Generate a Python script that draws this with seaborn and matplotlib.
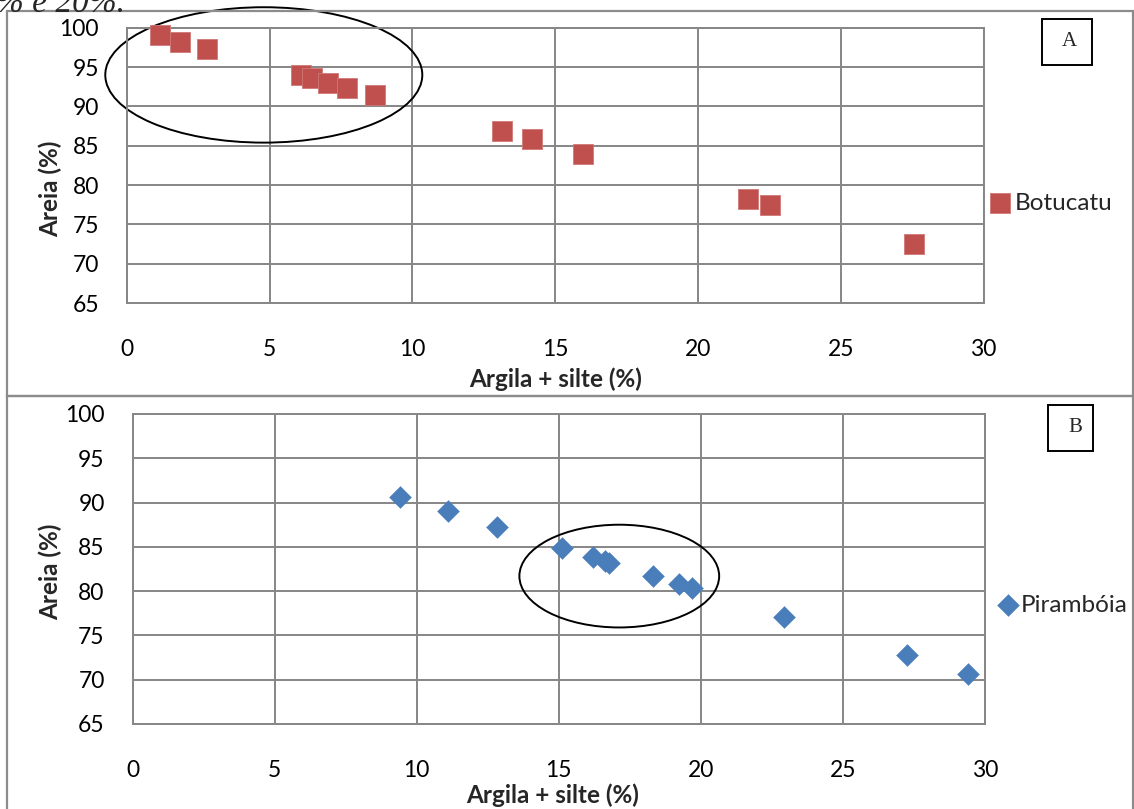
import seaborn as sns
import matplotlib.pyplot as plt
from matplotlib.patches import Ellipse, Rectangle

# Panel A - Botucatu
bot_x = [1.17, 1.87, 2.80, 6.10, 6.50, 7.06, 7.70, 8.69, 13.13, 14.18, 15.98, 21.75, 22.54, 27.55]
bot_y = [99.1, 98.2, 97.3, 94.0, 93.6, 93.0, 92.4, 91.4, 86.9, 85.8, 84.0, 78.3, 77.5, 72.5]

# Panel B - Pirambóia
pir_x = [9.43, 11.10, 12.83, 15.11, 16.19, 16.61, 16.78, 18.32, 19.24, 19.70, 22.92, 27.24, 29.41]
pir_y = [90.6, 89.0, 87.2, 84.9, 83.8, 83.4, 83.2, 81.7, 80.8, 80.4, 77.1, 72.8, 70.6]

x_ticks = [0, 5, 10, 15, 20, 25, 30]
y_ticks = [65, 70, 75, 80, 85, 90, 95, 100]
x_label = "Argila + silte (%)"
y_label = "Areia (%)"

RED = "#C0504D"
BLUE = "#4A7EBB"
GRID = "#868686"

sns.set_style("white")
plt.rcParams["font.family"] = ["Lato", "DejaVu Sans"]

W, H = 1134, 809
fig = plt.figure(figsize=(W / 100, H / 100), dpi=100)


def px_axes(l, t, r, b):
    return fig.add_axes([l / W, 1 - b / H, (r - l) / W, (b - t) / H])


def style(ax):
    ax.set_xlim(0, 30)
    ax.set_ylim(65, 100)
    ax.set_xticks(x_ticks)
    ax.set_yticks(y_ticks)
    ax.grid(True, color=GRID, lw=1.4)
    ax.set_axisbelow(True)
    for s in ax.spines.values():
        s.set_color(GRID)
        s.set_linewidth(1.4)
    ax.tick_params(axis="x", direction="out", length=7, width=1.4, color=GRID,
                   pad=19, labelsize=16.5, labelcolor="black")
    ax.tick_params(axis="y", direction="out", length=7, width=1.4, color=GRID,
                   pad=13, labelsize=16.5, labelcolor="black")
    ax.set_xlabel(x_label, fontsize=17.5, fontweight="bold", va="center")
    ax.set_ylabel(y_label, fontsize=17.5, fontweight="bold")


# --- panel A
axA = px_axes(126.7, 27.7, 983.5, 303.2)
sns.scatterplot(x=bot_x, y=bot_y, marker="s", s=205, color=RED, edgecolor="#D07876",
                linewidth=0.6, ax=axA, label="Botucatu", clip_on=False, zorder=3)
style(axA)
axA.xaxis.set_label_coords(0.5, (303.2 - 379) / 275.5)
axA.yaxis.set_label_coords((62 - 126.7) / 856.8, (303.2 - 189) / 275.5)
axA.add_patch(Ellipse((4.8, 94.0), 11.1, 17.2, fill=False, ec="black", lw=1.4, clip_on=False))
axA.legend(loc="center left", bbox_to_anchor=(988 / W, 1 - 203 / H), bbox_transform=fig.transFigure,
           frameon=False, fontsize=17.5, handlelength=1.0, handletextpad=0.12, borderpad=0,
           borderaxespad=0)

# --- panel B
axB = px_axes(132.5, 414, 985, 724)
sns.scatterplot(x=pir_x, y=pir_y, marker="D", s=125, color=BLUE, edgecolor=BLUE,
                linewidth=0.3, ax=axB, label="Pirambóia", clip_on=False, zorder=3)
style(axB)
axB.xaxis.set_label_coords(0.493, (724 - 795) / 310)
axB.yaxis.set_label_coords((62 - 132.5) / 852.5, (724 - 572) / 310)
axB.add_patch(Ellipse((17.13, 81.7), 7.03, 11.6, fill=False, ec="black", lw=1.4, clip_on=False))
axB.legend(loc="center left", bbox_to_anchor=(996 / W, 1 - 605 / H), bbox_transform=fig.transFigure,
           frameon=False, fontsize=17.5, handlelength=1.0, handletextpad=0.02, borderpad=0,
           borderaxespad=0)


# --- frames, letter boxes, cropped caption
def px_rect(l, t, r, b, **kw):
    fig.add_artist(Rectangle((l / W, 1 - b / H), (r - l) / W, (b - t) / H,
                             transform=fig.transFigure, fill=False, **kw))


px_rect(6.7, 11, 1132.5, 396, ec="#8C8C8C", lw=1.6)
px_rect(6.7, 396, 1132.5, 830, ec="#8C8C8C", lw=1.6, clip_on=False)
px_rect(1042, 18.7, 1091.5, 65, ec="black", lw=1.4)
px_rect(1048, 405, 1093, 451, ec="black", lw=1.4)
fig.text(1069 / W, 1 - 42 / H, "A", ha="center", va="center", fontsize=15, family="Liberation Serif")
fig.text(1075 / W, 1 - 427 / H, "B", ha="center", va="center", fontsize=15, family="Liberation Serif")
fig.text(-4 / W, 1 - 12 / H, "% e 20%.", ha="left", va="baseline", fontsize=24,
         family="Liberation Serif", fontstyle="italic")

fig.savefig("out.png", dpi=100)
